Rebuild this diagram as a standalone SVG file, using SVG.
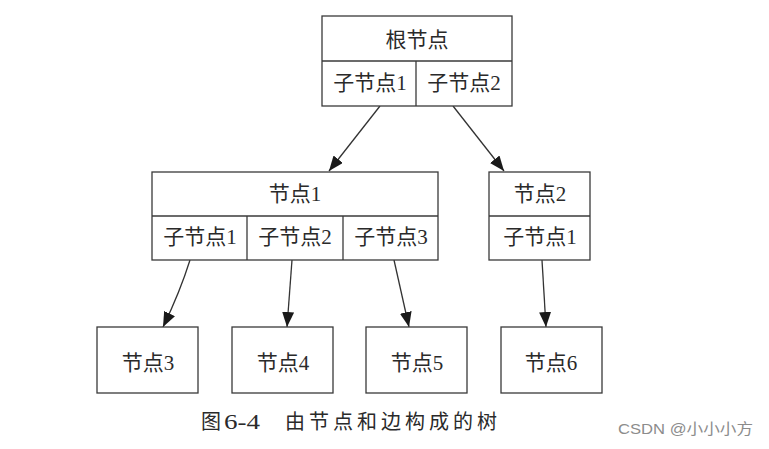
<svg xmlns="http://www.w3.org/2000/svg" width="769" height="449" viewBox="0 0 769 449">
  <style>
    .box { fill: #ffffff; stroke: #3a3a3a; stroke-width: 1.3; }
    .div { stroke: #3a3a3a; stroke-width: 1.3; fill: none; }
    .lbl { font-family: "Liberation Serif", "Noto Sans CJK SC", serif; font-size: 21px; fill: #2a2a2a; text-anchor: middle; }
    .edge { stroke: #333333; stroke-width: 1.3; fill: none; marker-end: url(#arr); }
    .cap { font-family: "Liberation Serif", "Noto Sans CJK SC", serif; font-size: 20px; fill: #2a2a2a; }
    .wm { font-family: "Liberation Sans", "Noto Sans CJK SC", sans-serif; font-size: 15px; fill: #8c8c8c; }
  </style>
  <defs>
    <marker id="arr" markerUnits="userSpaceOnUse" markerWidth="16" markerHeight="12" refX="15" refY="6" orient="auto" viewBox="0 0 16 12">
      <path d="M0,0 L15,6 L0,12 z" fill="#1a1a1a"/>
    </marker>
  </defs>
  <rect width="769" height="449" fill="#ffffff"/>

  <g id="connectors">
    <path class="edge" d="M380,106 L329,171"/>
    <path class="edge" d="M453,106 L504,171"/>
    <path class="edge" d="M190,260 Q180,292 163,327"/>
    <path class="edge" d="M292,260 L287,327"/>
    <path class="edge" d="M394,260 L409,327"/>
    <path class="edge" d="M542,260 L546,327"/>
  </g>

  <g id="root">
    <rect class="box" x="322" y="16" width="190" height="90"/>
    <line class="div" x1="322" y1="61" x2="512" y2="61"/>
    <line class="div" x1="416" y1="61" x2="416" y2="106"/>
    <text class="lbl" x="417" y="47">根节点</text>
    <text class="lbl" x="370" y="90">子节点1</text>
    <text class="lbl" x="464" y="90">子节点2</text>
  </g>

  <g id="node1">
    <rect class="box" x="152" y="172" width="286" height="88"/>
    <line class="div" x1="152" y1="216" x2="438" y2="216"/>
    <line class="div" x1="247" y1="216" x2="247" y2="260"/>
    <line class="div" x1="343" y1="216" x2="343" y2="260"/>
    <text class="lbl" x="295" y="201">节点1</text>
    <text class="lbl" x="200" y="244">子节点1</text>
    <text class="lbl" x="295" y="244">子节点2</text>
    <text class="lbl" x="391" y="244">子节点3</text>
  </g>

  <g id="node2">
    <rect class="box" x="489" y="172" width="101" height="88"/>
    <line class="div" x1="489" y1="216" x2="590" y2="216"/>
    <text class="lbl" x="540" y="201">节点2</text>
    <text class="lbl" x="540" y="244">子节点1</text>
  </g>

  <g id="node3">
    <rect class="box" x="97" y="327" width="101" height="66"/>
    <text class="lbl" x="148" y="370">节点3</text>
  </g>
  <g id="node4">
    <rect class="box" x="232" y="327" width="101" height="66"/>
    <text class="lbl" x="283" y="370">节点4</text>
  </g>
  <g id="node5">
    <rect class="box" x="366" y="327" width="101" height="66"/>
    <text class="lbl" x="417" y="370">节点5</text>
  </g>
  <g id="node6">
    <rect class="box" x="501" y="327" width="101" height="66"/>
    <text class="lbl" x="551" y="370">节点6</text>
  </g>

  <g id="caption">
    <text class="cap" x="201" y="429">图</text>
    <text class="cap" x="224" y="429" style="font-size:22px" textLength="36" lengthAdjust="spacingAndGlyphs">6-4</text>
    <text class="cap" x="285" y="429" textLength="212" lengthAdjust="spacing">由节点和边构成的树</text>
  </g>

  <text class="wm" x="618" y="434" textLength="135" lengthAdjust="spacingAndGlyphs">CSDN @小小小方</text>
</svg>
